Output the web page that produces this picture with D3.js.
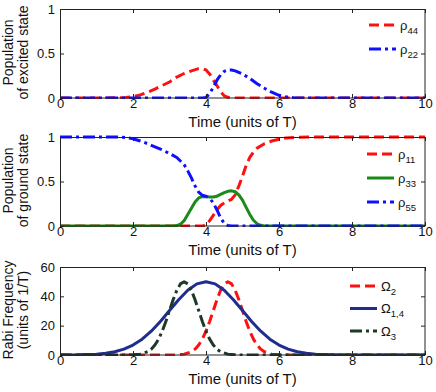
<!DOCTYPE html>
<html>
<head>
<meta charset="utf-8">
<script src="https://cdn.jsdelivr.net/npm/d3@7"></script>
<style>
html,body{margin:0;padding:0;background:#fff;}
svg{display:block;font-family:"Liberation Sans",Arial,sans-serif;}
</style>
</head>
<body>
<svg id="chart" width="436" height="392"></svg>
<script>
// ---------- Data ----------
const xTicks = [0, 2, 4, 6, 8, 10];
const xLabel = "Time (units of T)";

// Panel 1: excited state populations
const rho44T = [0, 1, 1.6, 1.8, 2.0, 2.2, 2.4, 2.6, 2.8, 3.0, 3.2, 3.4, 3.6, 3.8, 3.9, 4.0, 4.1, 4.2, 4.3, 4.4, 4.5, 4.6, 4.8, 5, 6, 7, 8, 9, 10];
const rho44V = [0, 0, 0.002, 0.007, 0.015, 0.035, 0.065, 0.1, 0.14, 0.18, 0.235, 0.275, 0.305, 0.33, 0.332, 0.315, 0.27, 0.2, 0.14, 0.07, 0.025, 0.008, 0, 0, 0, 0, 0, 0, 0];
const rho22T = [0, 2, 3, 3.9, 4.0, 4.1, 4.2, 4.3, 4.4, 4.5, 4.6, 4.7, 4.8, 5.0, 5.2, 5.4, 5.6, 5.8, 6.0, 6.2, 6.4, 6.6, 7, 8, 9, 10];
const rho22V = [0, 0, 0, 0, 0.005, 0.05, 0.12, 0.2, 0.26, 0.3, 0.315, 0.315, 0.305, 0.27, 0.22, 0.16, 0.11, 0.065, 0.03, 0.012, 0.003, 0, 0, 0, 0, 0];
const yTicks1 = [0, 0.5, 1];
const yTickLabels1 = ["0", "0.5", "1"];

// Panel 2: ground state populations
const rho11T = [0, 2, 3, 3.9, 4.0, 4.1, 4.2, 4.3, 4.4, 4.5, 4.6, 4.7, 4.8, 4.9, 5.0, 5.1, 5.2, 5.3, 5.4, 5.6, 5.8, 6.0, 6.2, 6.5, 7, 8, 9, 10];
const rho11V = [0, 0, 0, 0, 0.01, 0.06, 0.12, 0.18, 0.23, 0.26, 0.28, 0.3, 0.35, 0.45, 0.56, 0.68, 0.77, 0.83, 0.875, 0.925, 0.955, 0.975, 0.99, 0.997, 1, 1, 1, 1];
const rho33T = [0, 2, 3, 3.1, 3.2, 3.3, 3.4, 3.5, 3.6, 3.7, 3.8, 3.9, 4.0, 4.1, 4.2, 4.3, 4.4, 4.5, 4.6, 4.7, 4.8, 4.9, 5.0, 5.1, 5.2, 5.3, 5.4, 5.5, 5.6, 6, 8, 10];
const rho33V = [0, 0, 0, 0, 0.005, 0.02, 0.06, 0.13, 0.2, 0.27, 0.315, 0.33, 0.33, 0.325, 0.325, 0.335, 0.355, 0.375, 0.39, 0.395, 0.385, 0.35, 0.29, 0.21, 0.13, 0.065, 0.025, 0.008, 0, 0, 0, 0];
const rho55T = [0, 1, 1.6, 1.8, 2.0, 2.2, 2.4, 2.6, 2.8, 3.0, 3.2, 3.4, 3.5, 3.6, 3.7, 3.8, 3.9, 4.0, 4.1, 4.2, 4.3, 4.4, 4.5, 4.6, 4.7, 5, 6, 8, 10];
const rho55V = [1, 1, 1, 0.995, 0.98, 0.955, 0.925, 0.89, 0.855, 0.815, 0.77, 0.69, 0.62, 0.54, 0.45, 0.38, 0.345, 0.335, 0.31, 0.26, 0.18, 0.09, 0.03, 0.006, 0, 0, 0, 0, 0];
const yTicks2 = [0, 0.5, 1];
const yTickLabels2 = ["0", "0.5", "1"];

// Panel 3: Rabi frequencies
const om2T = [0, 2, 3, 3.2, 3.4, 3.6, 3.7, 3.8, 3.9, 4.0, 4.1, 4.2, 4.3, 4.4, 4.5, 4.6, 4.7, 4.8, 4.9, 5.0, 5.1, 5.2, 5.3, 5.4, 5.5, 5.6, 5.8, 6.0, 6.5, 8, 10];
const om2V = [0, 0, 0, 0.1, 0.6, 2.2, 4.0, 6.8, 10.8, 16.2, 22.9, 30.3, 37.7, 44.1, 48.5, 50, 48.5, 44.1, 37.7, 30.3, 22.9, 16.2, 10.8, 6.8, 4.0, 2.2, 0.6, 0.1, 0, 0, 0];
const om14T = [0, 0.5, 1.0, 1.25, 1.5, 1.75, 2.0, 2.25, 2.5, 2.75, 3.0, 3.25, 3.5, 3.75, 4.0, 4.25, 4.5, 4.75, 5.0, 5.25, 5.5, 5.75, 6.0, 6.25, 6.5, 6.75, 7.0, 7.5, 8, 9, 10];
const om14V = [0, 0.1, 0.56, 1.14, 2.2, 4.0, 6.8, 10.8, 16.2, 22.9, 30.3, 37.7, 44.1, 48.5, 50, 48.5, 44.1, 37.7, 30.3, 22.9, 16.2, 10.8, 6.8, 4.0, 2.2, 1.14, 0.56, 0.1, 0, 0, 0];
const om3T = [0, 1, 2.0, 2.2, 2.4, 2.5, 2.6, 2.7, 2.8, 2.9, 3.0, 3.1, 3.2, 3.3, 3.4, 3.5, 3.6, 3.7, 3.8, 3.9, 4.0, 4.1, 4.2, 4.3, 4.4, 4.6, 4.8, 5, 6, 8, 10];
const om3V = [0, 0, 0.1, 0.6, 2.2, 4.0, 6.8, 10.8, 16.2, 22.9, 30.3, 37.7, 44.1, 48.5, 50, 48.5, 44.1, 37.7, 30.3, 22.9, 16.2, 10.8, 6.8, 4.0, 2.2, 0.6, 0.1, 0, 0, 0, 0];
const yTicks3 = [0, 20, 40, 60];
const yTickLabels3 = ["0", "20", "40", "60"];

// ---------- Styles ----------
const RED = "#ff1010", BLUE = "#1010ff", GREEN = "#1a8a1a", NAVY = "#1f2d8c", DKGREEN = "#1c3a26";
const DASH = "10,5", DASHDOT = "12,4,3,4";

const svg = d3.select("#chart");
const X0 = 60, X1 = 425;

const panels = [
  { top: 9, bottom: 98, ydom: [0, 1], yt: yTicks1, ytl: yTickLabels1,
    ylab: ["Population", "of excited state"],
    series: [
      { t: rho44T, v: rho44V, color: RED, dash: DASH, sym: "\u03c1", sub: "44" },
      { t: rho22T, v: rho22V, color: BLUE, dash: DASHDOT, sym: "\u03c1", sub: "22" }
    ],
    legX: 369, legY: [25, 49] },
  { top: 137, bottom: 226, ydom: [0, 1], yt: yTicks2, ytl: yTickLabels2,
    ylab: ["Population", "of ground state"],
    series: [
      { t: rho11T, v: rho11V, color: RED, dash: DASH, sym: "\u03c1", sub: "11" },
      { t: rho33T, v: rho33V, color: GREEN, dash: null, sym: "\u03c1", sub: "33" },
      { t: rho55T, v: rho55V, color: BLUE, dash: DASHDOT, sym: "\u03c1", sub: "55" }
    ],
    legX: 367, legY: [154, 178, 202] },
  { top: 267, bottom: 355, ydom: [0, 60], yt: yTicks3, ytl: yTickLabels3,
    ylab: ["Rabi Frequency", "(units of 1/T)"],
    series: [
      { t: om2T, v: om2V, color: RED, dash: DASH, sym: "\u03a9", sub: "2" },
      { t: om14T, v: om14V, color: NAVY, dash: null, sym: "\u03a9", sub: "1,4" },
      { t: om3T, v: om3V, color: DKGREEN, dash: DASHDOT, sym: "\u03a9", sub: "3" }
    ],
    legX: 350, legY: [286, 308.5, 331] }
];

const x = d3.scaleLinear().domain([0, 10]).range([X0, X1]);

panels.forEach((p, i) => {
  const y = d3.scaleLinear().domain(p.ydom).range([p.bottom, p.top]);
  const g = svg.append("g");

  // clip
  const cid = "clip" + i;
  svg.append("clipPath").attr("id", cid).append("rect")
    .attr("x", X0 - 1).attr("y", p.top - 2).attr("width", X1 - X0 + 2).attr("height", p.bottom - p.top + 3);

  // lines
  const line = d3.line().x((d) => x(d[0])).y((d) => y(d[1]));
  const lg = g.append("g").attr("clip-path", `url(#${cid})`);
  p.series.forEach((s) => {
    const pts = s.t.map((t, k) => [t, s.v[k]]);
    lg.append("path").datum(pts).attr("d", line)
      .attr("fill", "none").attr("stroke", s.color).attr("stroke-width", 3)
      .attr("stroke-dasharray", s.dash).attr("stroke-linejoin", "round");
  });

  // axes with inner ticks
  const axB = d3.axisBottom(x).tickValues(xTicks).tickSizeInner(-4).tickSizeOuter(0).tickPadding(4).tickFormat(d3.format("d"));
  const axT = d3.axisTop(x).tickValues(xTicks).tickSizeInner(-4).tickSizeOuter(0).tickFormat("");
  const axL = d3.axisLeft(y).tickValues(p.yt).tickSizeInner(-4).tickSizeOuter(0).tickPadding(5).tickFormat((d, k) => p.ytl[k]);
  const axR = d3.axisRight(y).tickValues(p.yt).tickSizeInner(-4).tickSizeOuter(0).tickFormat("");

  const style = (sel) => {
    sel.select(".domain").remove();
    sel.selectAll("line").attr("stroke", "#222");
    sel.selectAll("text").attr("font-size", 13).attr("fill", "#111")
      .attr("font-family", '"Liberation Sans",Arial,sans-serif');
  };
  g.append("g").attr("transform", `translate(0,${p.bottom})`).call(axB).call(style)
    .selectAll("text").attr("dy", "0.71em").attr("y", 1);
  g.append("g").attr("transform", `translate(0,${p.top})`).call(axT).call(style);
  g.append("g").attr("transform", `translate(${X0},0)`).call(axL).call(style);
  g.append("g").attr("transform", `translate(${X1},0)`).call(axR).call(style);

  // frame
  g.append("rect").attr("x", X0 + 0.5).attr("y", p.top + 0.5)
    .attr("width", X1 - X0 - 0.5).attr("height", p.bottom - p.top - 0.5)
    .attr("fill", "none").attr("stroke", "#222").attr("stroke-width", 1);

  // x label
  g.append("text").attr("x", (X0 + X1) / 2).attr("y", p.bottom + 29)
    .attr("text-anchor", "middle").attr("font-size", 15).attr("fill", "#111").text(xLabel);

  // y label (two lines)
  const cy = (p.top + p.bottom) / 2 - 1;
  p.ylab.forEach((txt, k) => {
    g.append("text").attr("transform", `translate(${13 + k * 15},${cy}) rotate(-90)`)
      .attr("text-anchor", "middle").attr("font-size", 14).attr("fill", "#111").text(txt);
  });

  // legend
  p.series.forEach((s, k) => {
    const ly = p.legY[k];
    g.append("line").attr("x1", p.legX).attr("x2", p.legX + 27).attr("y1", ly).attr("y2", ly)
      .attr("stroke", s.color).attr("stroke-width", 3).attr("stroke-dasharray", s.dash);
    const t = g.append("text").attr("x", p.legX + 31).attr("y", ly + 4.5)
      .attr("font-size", 13).attr("fill", "#111");
    t.append("tspan").text(s.sym);
    t.append("tspan").attr("dy", 4).attr("font-size", 9.5).text(s.sub);
  });
});
</script>
</body>
</html>
